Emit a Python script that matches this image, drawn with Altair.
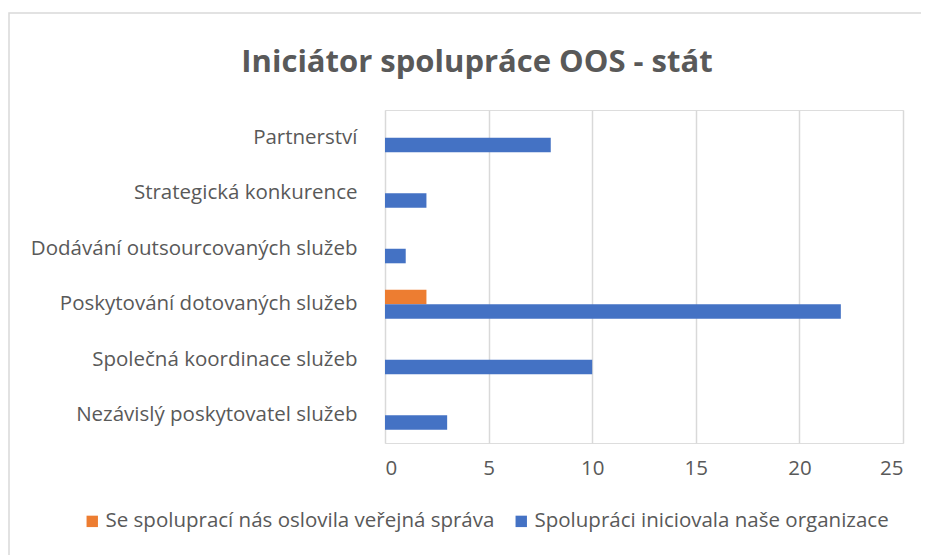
import altair as alt
import pandas as pd

categories = [
    "Partnerství",
    "Strategická konkurence",
    "Dodávání outsourcovaných služeb",
    "Poskytování dotovaných služeb",
    "Společná koordinace služeb",
    "Nezávislý poskytovatel služeb",
]
series = ["Se spoluprací nás oslovila veřejná správa", "Spolupráci iniciovala naše organizace"]
orange_values = [0, 0, 0, 2, 0, 0]
blue_values = [8, 2, 1, 22, 10, 3]
x_ticks = [0, 5, 10, 15, 20, 25]
colors = ["#ED7D31", "#4472C4"]
title_text = "Iniciátor spolupráce OOS - stát"

rows = []
for c, o, b in zip(categories, orange_values, blue_values):
    rows.append({"cat": c, "series": series[0], "value": o})
    rows.append({"cat": c, "series": series[1], "value": b})
df = pd.DataFrame(rows)

FONT = "Open Sans"
GREY = "#595959"
W, H = 518, 333
FS = 20.5

bars = alt.Chart(df).mark_bar(stroke=None).encode(
    x=alt.X("value:Q", scale=alt.Scale(domain=[0, 25], nice=False),
            axis=alt.Axis(values=x_ticks, title=None, grid=True, gridColor="#D9D9D9",
                          gridWidth=1.5, domain=False, ticks=False, labelPadding=15,
                          labelFontSize=FS, labelColor=GREY, labelFont=FONT)),
    y=alt.Y("cat:N", sort=categories,
            scale=alt.Scale(paddingInner=0.476, paddingOuter=0.238),
            axis=alt.Axis(title=None, domain=False, ticks=False, labelPadding=28,
                          labelFontSize=FS, labelColor=GREY, labelFont=FONT, labelLimit=400)),
    yOffset=alt.YOffset("series:N", sort=series),
    color=alt.Color("series:N", sort=series,
                    scale=alt.Scale(domain=series, range=colors),
                    legend=alt.Legend(title=None, orient="none", legendX=-303, legendY=401,
                                      direction="horizontal", symbolType="square",
                                      symbolSize=130, symbolStrokeWidth=0,
                                      labelFontSize=FS, labelColor=GREY, labelFont=FONT,
                                      labelLimit=600, columnPadding=16, labelOffset=3)),
)

frame = alt.Chart(pd.DataFrame({"a": [0]})).mark_rect(
    fill=None, stroke="#D9D9D9", strokeWidth=1.5
).encode(x=alt.value(-376), x2=alt.value(W + 60), y=alt.value(-97), y2=alt.value(H + 160))

title = alt.Chart(pd.DataFrame({"t": [title_text]})).mark_text(
    font=FONT, fontSize=31, fontWeight="bold", color=GREY, align="center", baseline="alphabetic"
).encode(text="t:N", x=alt.value(92), y=alt.value(-38))

chart = alt.layer(frame, title, bars).properties(
    width=W, height=H,
    autosize=alt.AutoSizeParams(type="none"),
    padding={"left": 377, "top": 102, "right": 18, "bottom": 112},
).configure_view(stroke=None).configure(background="white")

chart.save("out.html", embed_options={"renderer": "svg", "actions": False})
